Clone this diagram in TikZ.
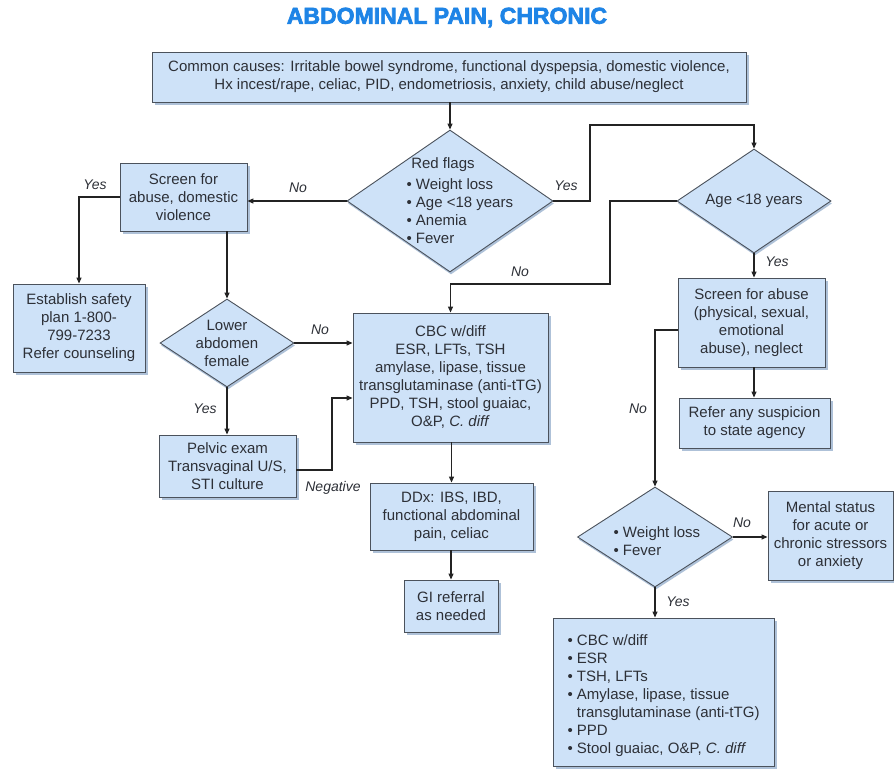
\documentclass[tikz,border=0pt]{standalone}
\usepackage{fontspec}
\setmainfont{Liberation Sans}
\newfontfamily\headfont{Liberation Sans}[UprightFeatures={FakeBold=3}, BoldFeatures={FakeBold=3}]
\usetikzlibrary{shapes.geometric,arrows.meta,shadows}
\definecolor{boxfill}{RGB}{206,226,248}
\definecolor{boxline}{RGB}{75,82,92}
\definecolor{shade}{RGB}{140,168,200}
\definecolor{titleblue}{RGB}{30,132,230}
\definecolor{wire}{RGB}{35,35,35}
\definecolor{ink}{RGB}{45,48,55}
\begin{document}
\begin{tikzpicture}[x=1pt,y=-1pt,
  every node/.style={font=\fontsize{15}{18}\selectfont, text=ink},
  stepbox/.style={draw=boxline, fill=boxfill, line width=0.9pt, inner sep=0pt, align=center,
    drop shadow={shadow xshift=2.5pt, shadow yshift=-2.5pt, fill=shade, opacity=0.7}},
  decision/.style={diamond, draw=boxline, fill=boxfill, line width=0.9pt, inner sep=0pt,
    drop shadow={shadow xshift=1pt, shadow yshift=-2.5pt, fill=shade, opacity=0.7}},
  link/.style={draw=wire, line width=1.2pt, -{Triangle[length=6pt,width=5pt]}},
  tag/.style={font=\itshape\fontsize{14}{16}\selectfont},
]
\useasboundingbox[fill=white] (0,0) rectangle (894,769);

% title
\node[font=\headfont\bfseries\fontsize{23}{26}\selectfont, text=titleblue] (title) at (447,17.5) {ABDOMINAL PAIN, CHRONIC};

% boxes
\node[stepbox, minimum width=594, minimum height=50] (top) at (449,77)
  {Common causes: Irritable bowel syndrome, functional dyspepsia, domestic violence,\\
   Hx incest/rape, celiac, PID, endometriosis, anxiety, child abuse/neglect};
\node[stepbox, minimum width=127, minimum height=68] (scr1) at (183.5,197)
  {Screen for\\abuse, domestic\\violence};
\node[stepbox, minimum width=132, minimum height=88] (est) at (79,328)
  {Establish safety\\plan 1-800-\\799-7233\\Refer counseling};
\node[stepbox, minimum width=195, minimum height=129] (cbc) at (450.5,377.5)
  {CBC w/diff\\ESR, LFTs, TSH\\amylase, lipase, tissue\\transglutaminase (anti-tTG)\\PPD, TSH, stool guaiac,\\O\&P, \textit{C. diff}};
\node[stepbox, minimum width=137, minimum height=62] (pel) at (227.5,466)
  {Pelvic exam\\Transvaginal U/S,\\STI culture};
\node[stepbox, minimum width=163, minimum height=67] (ddx) at (451.5,516.5)
  {DDx: IBS, IBD,\\functional abdominal\\pain, celiac};
\node[stepbox, minimum width=94, minimum height=52] (gi) at (451,606)
  {GI referral\\as needed};
\node[stepbox, minimum width=147, minimum height=89] (scr2) at (751.5,322.5)
  {Screen for abuse\\(physical, sexual,\\emotional\\abuse), neglect};
\node[stepbox, minimum width=151, minimum height=50] (ref) at (754.5,423)
  {Refer any suspicion\\to state agency};
\node[stepbox, minimum width=125, minimum height=89] (ment) at (830.5,535.5)
  {Mental status\\for acute or\\chronic stressors\\or anxiety};
\node[stepbox, minimum width=221, minimum height=148] (bot) at (663.5,692) {};
\node[anchor=west, align=left] (botlist) at (564,696)
  {• CBC w/diff\\• ESR\\• TSH, LFTs\\• Amylase, lipase, tissue\\\hphantom{• }transglutaminase (anti-tTG)\\• PPD\\• Stool guaiac, O\&P, \textit{C. diff}};

% decisions
\node[decision, minimum width=206, minimum height=142] (rf) at (450,201) {};
\node (rftitle) at (443,165) {Red flags};
\node[anchor=west, align=left] (rflist) at (403,211.5)
  {• Weight loss\\• Age <18 years\\• Anemia\\• Fever};
\node[decision, minimum width=154, minimum height=104] (age) at (754,201) {};
\node (agetext) at (754,201) {Age <18 years};
\node[decision, minimum width=134, minimum height=88] (lad) at (227,343) {};
\node[align=center] (ladtext) at (227,343) {Lower\\abdomen\\female};
\node[decision, minimum width=155, minimum height=100] (wf) at (655,537) {};
\node[anchor=west, align=left] (wflist) at (610,541) {• Weight loss\\• Fever};

% turning points
\coordinate (yk) at (590,125);
\coordinate (nk) at (610,284);
\coordinate (negk) at (332,398);

% connectors
\draw[link] (rf.north |- top.south) -- (rf.north);
\draw[link] (rf.west) -- (rf.west -| scr1.east);
\draw[link] (scr1.west) -| (est.north);
\draw[link] (lad.north |- scr1.south) -- (lad.north);
\draw[link] (lad.east) -- (lad.east -| cbc.west);
\draw[link] (lad.south) -- (lad.south |- pel.north);
\draw[link] ([yshift=-4pt]pel.east) -| (negk) -- (negk -| cbc.west);
\draw[link] (ddx.north |- cbc.south) -- (ddx.north);
\draw[link] (gi.north |- ddx.south) -- (gi.north);
\draw[link] (rf.east) -| (yk) -| (age.north);
\draw[link] (age.west) -| (nk) -| (cbc.north);
\draw[link] (age.south) -- (age.south |- scr2.north);
\draw[link] (age.south |- scr2.south) -- (age.south |- ref.north);
\draw[link] ([yshift=-7.5pt]scr2.west) -| (wf.north);
\draw[link] (wf.east) -- (wf.east -| ment.west);
\draw[link] (wf.south) -- (wf.south |- bot.north);

% branch labels
\node[tag] (l1) at (298,188) {No};
\node[tag] (l2) at (95,185) {Yes};
\node[tag] (l3) at (320,330) {No};
\node[tag] (l4) at (205,409) {Yes};
\node[tag] (l5) at (333,488) {Negative};
\node[tag] (l6) at (566,186) {Yes};
\node[tag] (l7) at (520,272) {No};
\node[tag] (l8) at (777,262) {Yes};
\node[tag] (l9) at (638,409) {No};
\node[tag] (l10) at (742,523) {No};
\node[tag] (l11) at (678,602) {Yes};
\end{tikzpicture}
\end{document}
